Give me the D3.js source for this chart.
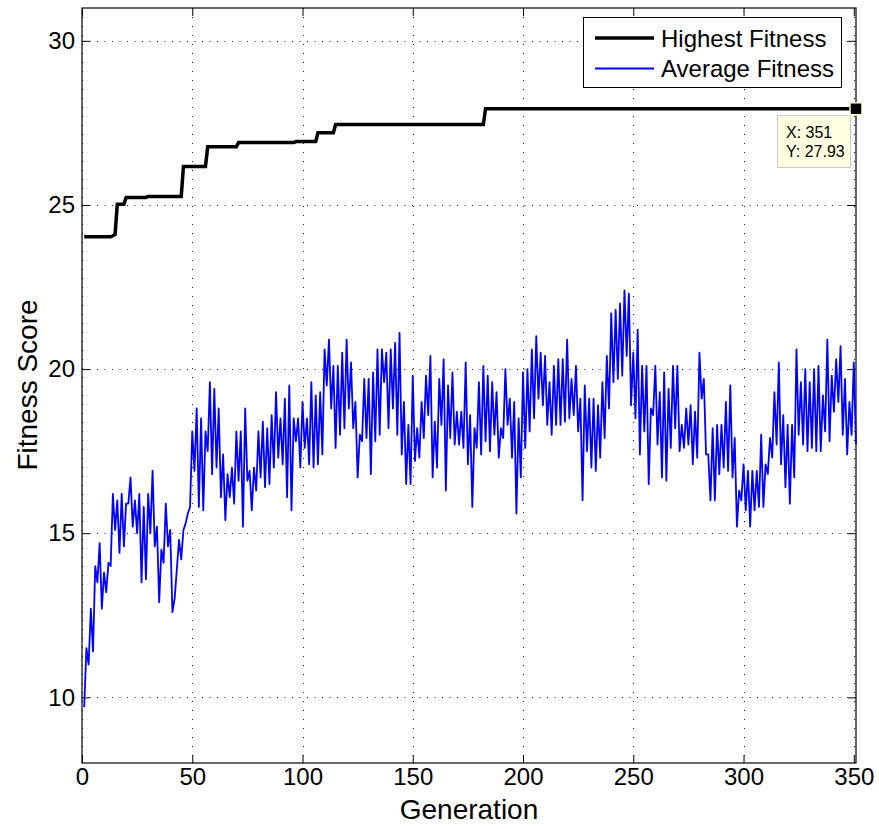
<!DOCTYPE html>
<html>
<head>
<meta charset="utf-8">
<script src="https://cdn.jsdelivr.net/npm/d3@7"></script>
<style>
body { margin: 0; background: #fff; }
svg { font-family: "Liberation Sans", Arial, sans-serif; }
</style>
</head>
<body>
<svg id="chart" width="879" height="829"></svg>
<script>
// average fitness per generation, gen 1..351
const avgFitness = [
    9.7, 11.5, 11.0, 12.7, 11.4, 14.0, 13.5, 14.7, 12.7, 13.8,
    13.2, 14.1, 14.0, 16.2, 15.1, 16.0, 14.4, 16.2, 14.6, 15.9,
    15.9, 16.7, 15.2, 16.0, 15.0, 16.2, 13.5, 15.8, 13.6, 16.2,
    15.0, 16.9, 14.6, 15.2, 12.9, 14.5, 14.1, 15.9, 14.6, 15.1,
    12.6, 13.0, 13.9, 14.8, 14.2, 15.1, 15.3, 15.6, 15.8, 18.1,
    16.9, 18.8, 15.8, 18.5, 15.7, 18.1, 17.5, 19.6, 16.8, 19.4,
    17.0, 18.8, 16.1, 17.4, 15.4, 16.8, 16.1, 17.0, 15.9, 18.1,
    16.6, 18.1, 15.2, 18.8, 16.6, 16.9, 15.7, 17.0, 16.3, 18.1,
    16.7, 18.4, 16.4, 18.2, 16.5, 18.6, 17.0, 19.3, 17.3, 18.5,
    17.1, 19.1, 16.1, 19.5, 15.7, 18.5, 17.8, 18.5, 17.0, 19.0,
    17.6, 18.5, 17.1, 19.6, 17.0, 19.2, 17.1, 19.3, 17.4, 20.6,
    19.5, 20.9, 18.8, 20.1, 17.6, 20.1, 18.0, 20.5, 18.2, 20.9,
    18.8, 20.2, 18.2, 19.0, 16.7, 18.0, 17.8, 19.7, 17.9, 19.7,
    16.8, 19.9, 17.8, 20.6, 18.0, 20.6, 19.6, 20.5, 18.2, 20.6,
    18.8, 20.8, 18.0, 21.1, 17.4, 19.0, 16.5, 18.3, 16.5, 19.8,
    17.2, 18.2, 17.3, 19.0, 17.9, 19.8, 18.6, 20.4, 16.7, 18.4,
    17.0, 19.7, 18.3, 20.3, 16.3, 19.5, 17.9, 19.9, 17.7, 18.7,
    17.7, 18.7, 17.6, 20.2, 17.1, 18.6, 15.8, 18.2, 17.6, 19.6,
    17.4, 20.1, 17.8, 19.8, 17.5, 19.6, 18.0, 19.3, 17.3, 18.2,
    17.9, 20.0, 18.3, 19.1, 17.3, 19.0, 15.6, 18.5, 16.7, 19.9,
    17.6, 20.0, 18.1, 20.6, 18.5, 21.0, 19.1, 20.5, 18.9, 20.4,
    18.3, 19.6, 18.0, 20.1, 18.3, 20.3, 18.3, 20.3, 18.4, 20.9,
    18.5, 19.7, 18.6, 20.1, 18.1, 19.1, 16.0, 19.5, 17.5, 19.1,
    17.0, 19.1, 16.9, 18.9, 17.3, 19.6, 17.9, 20.4, 18.8, 21.7,
    19.6, 21.8, 19.7, 22.0, 19.8, 22.4, 20.4, 22.3, 18.9, 20.5,
    18.5, 21.2, 17.4, 20.1, 18.1, 20.1, 16.5, 18.8, 18.6, 20.1,
    17.7, 19.3, 16.7, 19.9, 16.6, 19.4, 17.6, 20.1, 18.2, 20.1,
    17.5, 18.3, 17.6, 18.8, 17.7, 18.9, 17.1, 18.7, 17.3, 20.5,
    19.1, 19.7, 17.4, 17.4, 16.0, 18.2, 16.0, 18.3, 16.8, 18.3,
    17.0, 19.0, 16.9, 19.5, 16.7, 17.9, 15.2, 16.3, 16.0, 17.1,
    15.7, 16.9, 15.2, 16.9, 15.7, 16.9, 15.8, 18.0, 15.8, 17.1,
    16.8, 17.9, 17.3, 19.3, 17.7, 20.2, 17.1, 18.6, 16.4, 18.3,
    15.9, 18.3, 16.7, 20.6, 18.0, 19.6, 17.7, 20.0, 17.5, 19.6,
    17.6, 20.0, 17.5, 20.1, 17.5, 19.2, 18.1, 20.9, 17.8, 19.8,
    18.7, 20.3, 19.0, 20.7, 18.0, 19.7, 17.4, 19.0, 18.0, 20.2,
    17.7
];

// highest fitness only changes at a few generations
const bestGen = [1, 13, 14, 15, 16, 19, 20, 29, 30, 45, 46, 56, 57, 70, 71, 96, 97, 106, 107, 114, 115, 182, 183, 351];
const bestFit = [24.03, 24.03, 24.06, 24.1, 25.02, 25.02, 25.23, 25.23, 25.26, 25.26, 26.17, 26.17, 26.77, 26.77,
    26.9, 26.9, 26.93, 26.93, 27.2, 27.2, 27.45, 27.45, 27.93, 27.93];

const xTicks = [0, 50, 100, 150, 200, 250, 300, 350];
const yTicks = [10, 15, 20, 25, 30];
const seriesNames = ['Highest Fitness', 'Average Fitness'];
const tipGen = 351;
const tipFit = 27.93;

const plotLeft = 82, plotRight = 856, plotTop = 8, plotBottom = 763;
const tickLen = 8;

const svg = d3.select('#chart');
const x = d3.scaleLinear().domain([0, 351]).range([plotLeft, plotRight]);
const y = d3.scaleLinear().domain([8, 31]).range([plotBottom, plotTop]);

// grid
const grid = svg.append('g').attr('stroke', '#222').attr('stroke-width', 1);
grid.selectAll('.vg')
    .data(xTicks)
    .enter()
    .append('line')
    .attr('x1', d => Math.round(x(d)) + 0.5)
    .attr('x2', d => Math.round(x(d)) + 0.5)
    .attr('y1', plotTop)
    .attr('y2', plotBottom)
    .attr('stroke-dasharray', '1,8');
grid.selectAll('.hg')
    .data(yTicks)
    .enter()
    .append('line')
    .attr('y1', d => Math.round(y(d)) + 0.5)
    .attr('y2', d => Math.round(y(d)) + 0.5)
    .attr('x1', plotLeft)
    .attr('x2', plotRight)
    .attr('stroke-dasharray', '1,6.5');

// axes, ticks pointing inward
const fontSize = 24;
const xAxis = svg.append('g')
    .attr('transform', `translate(0,${plotBottom})`)
    .call(d3.axisBottom(x).tickValues(xTicks).tickSize(-tickLen).tickSizeOuter(0).tickPadding(5));
const yAxis = svg.append('g')
    .attr('transform', `translate(${plotLeft},0)`)
    .call(d3.axisLeft(y).tickValues(yTicks).tickSize(-tickLen).tickSizeOuter(0).tickPadding(7));
const xTop = svg.append('g')
    .attr('transform', `translate(0,${plotTop})`)
    .call(d3.axisTop(x).tickValues(xTicks).tickSize(-tickLen).tickSizeOuter(0).tickFormat(''));
const yRight = svg.append('g')
    .attr('transform', `translate(${plotRight},0)`)
    .call(d3.axisRight(y).tickValues(yTicks).tickSize(-tickLen).tickSizeOuter(0).tickFormat(''));

[xAxis, yAxis, xTop, yRight].forEach(g => {
    g.select('.domain').remove();
    g.selectAll('line').attr('stroke', '#000');
    g.selectAll('text')
        .attr('fill', '#000')
        .style('font-size', fontSize + 'px')
        .style('font-family', '"Liberation Sans", Arial, sans-serif');
});

svg.append('rect')
    .attr('x', plotLeft)
    .attr('y', plotTop)
    .attr('width', plotRight - plotLeft)
    .attr('height', plotBottom - plotTop)
    .attr('fill', 'none')
    .attr('stroke', '#000')
    .attr('stroke-width', 1.2);

// series
const avgLine = d3.line()
    .x((d, i) => x(i + 1))
    .y(d => y(d));
svg.append('path')
    .datum(avgFitness)
    .attr('d', avgLine)
    .attr('fill', 'none')
    .attr('stroke', '#0000ff')
    .attr('stroke-width', 1.8)
    .attr('stroke-linejoin', 'round');

const bestLine = d3.line()
    .x((d, i) => x(bestGen[i]))
    .y(d => y(d));
svg.append('path')
    .datum(bestFit)
    .attr('d', bestLine)
    .attr('fill', 'none')
    .attr('stroke', '#000')
    .attr('stroke-width', 3.5);

// axis titles
svg.append('text')
    .attr('x', 469)
    .attr('y', 819)
    .attr('text-anchor', 'middle')
    .style('font-size', '28px')
    .text('Generation');
svg.append('text')
    .attr('transform', `translate(37,385) rotate(-90)`)
    .attr('text-anchor', 'middle')
    .style('font-size', '28px')
    .text('Fitness Score');

// legend
const legend = svg.append('g');
legend.append('rect')
    .attr('x', 583.5)
    .attr('y', 17.5)
    .attr('width', 258)
    .attr('height', 70)
    .attr('fill', '#fff')
    .attr('stroke', '#000');
const legendStyles = [{ color: '#000', w: 3.5 }, { color: '#0000ff', w: 1.8 }];
seriesNames.forEach((name, i) => {
    const cy = 38 + i * 30.5;
    legend.append('line')
        .attr('x1', 595).attr('x2', 654)
        .attr('y1', cy).attr('y2', cy)
        .attr('stroke', legendStyles[i].color)
        .attr('stroke-width', legendStyles[i].w);
    legend.append('text')
        .attr('x', 661)
        .attr('y', cy + 8.5)
        .style('font-size', '24px')
        .text(name);
});

// data tip
const tip = svg.append('g');
tip.append('rect')
    .attr('x', 777.5)
    .attr('y', 115.5)
    .attr('width', 73)
    .attr('height', 52)
    .attr('fill', '#ffffe1')
    .attr('stroke', '#c8c8c8');
tip.append('text')
    .attr('x', 786).attr('y', 138)
    .style('font-size', '16px')
    .text('X: ' + tipGen);
tip.append('text')
    .attr('x', 786).attr('y', 157)
    .style('font-size', '16px')
    .text('Y: ' + tipFit);
tip.append('rect')
    .attr('x', x(tipGen) - 6)
    .attr('y', y(tipFit) - 6)
    .attr('width', 12)
    .attr('height', 12)
    .attr('fill', '#000')
    .attr('stroke', '#ffffcc')
    .attr('stroke-width', 1.5);
</script>
</body>
</html>
